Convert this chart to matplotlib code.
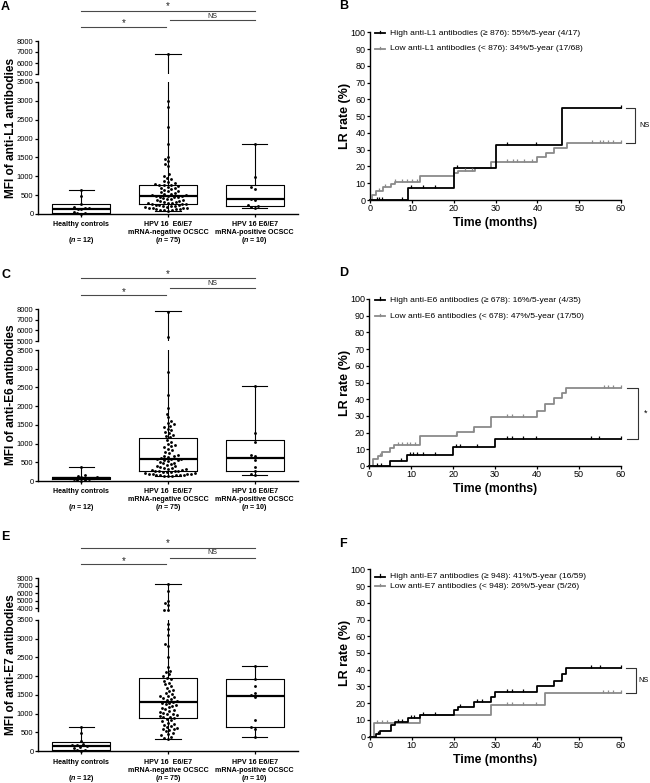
import numpy as np
import matplotlib
matplotlib.use('Agg')
import matplotlib.pyplot as plt
import matplotlib.transforms as mtrans
from matplotlib.path import Path

plt.rcParams['font.family'] = ['Liberation Sans', 'DejaVu Sans']
plt.rcParams['mathtext.fontset'] = 'custom'
plt.rcParams['mathtext.it'] = 'Liberation Sans:italic:bold'
plt.rcParams['mathtext.rm'] = 'Liberation Sans:bold'

# ------------------------------------------------------------------ data
box_line1 = ["Healthy controls", "HPV 16  E6/E7", "HPV 16 E6/E7"]
box_line2 = ["", "mRNA-negative OCSCC", "mRNA-positive OCSCC"]
box_n = [12, 75, 10]
sig_labels = ["*", "NS", "*"]
sig_pairs = [(0, 2), (1.02, 2), (0, 0.98)]

# box stats per group: [min, q1, median, q3, max]
L1_box = [[0, 35, 145, 257, 644], [90, 265, 468, 777, 6790], [160, 220, 385, 780, 1863]]
E6_box = [[10, 45, 90, 118, 382], [130, 262, 575, 1145, 7780], [150, 255, 625, 1085, 2536]]
E7_box = [[10, 27, 125, 248, 645], [330, 873, 1300, 1940, 7300], [380, 650, 1475, 1920, 2270]]

L1_hc = [640, 470, 260, 180, 165, 150, 140, 120, 60, 30, 15, 0]
L1_neg = [6790, 3000, 2850, 2300, 1850, 1520, 1450, 1400, 1330, 1280, 1050, 1000, 960, 920,
          880, 850, 820, 800, 780, 770, 760, 740, 720, 700, 680, 660, 640, 620, 600, 580, 560,
          540, 520, 510, 500, 490, 480, 470, 460, 450, 440, 420, 400, 390, 380, 360, 350, 340,
          320, 310, 300, 290, 280, 275, 270, 265, 250, 240, 230, 220, 210, 200, 190, 180, 170,
          165, 160, 150, 140, 130, 120, 110, 100, 95, 90]
L1_pos = [1860, 990, 720, 670, 410, 360, 250, 220, 180, 160]

E6_hc = [380, 150, 140, 120, 100, 90, 80, 60, 50, 30, 20, 10]
E6_neg = [7750, 5350, 2910, 2310, 1960, 1800, 1700, 1600, 1560, 1520, 1480, 1450, 1400, 1350,
          1300, 1270, 1240, 1200, 1170, 1100, 1050, 1000, 960, 930, 900, 860, 820, 780, 740,
          700, 680, 660, 640, 620, 600, 590, 580, 570, 550, 530, 510, 490, 470, 450, 430, 410,
          390, 370, 350, 340, 330, 310, 300, 290, 280, 275, 265, 255, 245, 240, 230, 220, 210,
          200, 195, 190, 180, 170, 165, 160, 155, 150, 145, 140, 130]
E6_pos = [2530, 1270, 1030, 700, 680, 560, 370, 260, 200, 150]

E7_hc = [640, 470, 260, 180, 160, 150, 130, 110, 70, 40, 20, 10]
E7_neg = [7300, 6300, 5000, 4700, 4400, 3800, 3750, 3400, 3250, 3100, 2850, 2800, 2500, 2250,
          2150, 2100, 2050, 2000, 1960, 1920, 1880, 1830, 1780, 1730, 1690, 1640, 1600, 1560,
          1520, 1480, 1460, 1440, 1420, 1400, 1370, 1340, 1310, 1290, 1270, 1250, 1220, 1200,
          1180, 1150, 1120, 1100, 1070, 1050, 1020, 1000, 980, 960, 940, 920, 900, 880, 860,
          820, 790, 760, 730, 700, 680, 650, 620, 600, 580, 560, 530, 480, 450, 420, 380, 350, 330]
E7_pos = [2270, 1930, 1750, 1560, 1500, 1450, 830, 650, 600, 380]

# Kaplan-Meier style curves (LR rate, %)
B_high_t = [9, 20, 30, 46]
B_high_r = [7.4, 19.0, 32.6, 55.0]
B_high_c = [1.6, 2.2, 2.8, 7.6, 9.7, 12.6, 15.6, 20.7, 32.7, 39.8, 60]
B_low_t = [0.5, 1.5, 3, 5, 6, 12, 20, 21, 25, 29, 40, 42, 44, 47]
B_low_r = [3, 5.5, 7.5, 9.5, 11, 14.5, 16.3, 17.5, 19.2, 22.8, 25.5, 28, 31, 34]
B_low_c = [2.2, 3.6, 6, 7.6, 8.8, 10, 11.2, 22.7, 24.3, 32.7, 34.3, 35.1, 36.7, 38.7,
           53, 55, 55.8, 57, 58.2, 60]

D_high_t = [5, 9, 20, 30]
D_high_r = [3.2, 6.6, 11.1, 15.9]
D_high_c = [1.8, 2.8, 7.6, 9.7, 10.5, 11.3, 12.9, 15.7, 20.8, 21.6, 25.6, 32.8, 34, 36.8,
            39.8, 52.9, 54.9, 60]
D_low_t = [1, 2, 3, 5, 6, 12, 21, 25, 29, 40, 42, 44, 46, 47]
D_low_r = [4, 6.2, 8.3, 10.5, 12.6, 17.8, 20.6, 23.3, 29.3, 33.2, 36.9, 40.5, 43.8, 47]
D_low_c = [2.6, 6.9, 7.9, 8.9, 9.7, 10.9, 20.8, 24.8, 32.8, 34, 36.8, 55.9, 57, 58.2, 60]

F_high_t = [1.5, 2.5, 5, 6, 9, 12, 20, 21, 25, 29, 30, 40, 44, 46, 47]
F_high_r = [1.7, 3.6, 7.2, 9, 11, 13, 15.8, 18, 21, 23.5, 26.5, 30, 33.5, 37.5, 41]
F_high_c = [2, 6.8, 7.6, 9.7, 10.5, 12.6, 15.6, 21.6, 25.6, 26.7, 32.7, 33.9, 36.7, 53, 55, 60]
F_low_t = [1, 12, 29, 42]
F_low_r = [8.3, 13, 18.7, 26.3]
F_low_c = [1.6, 2.8, 4, 32.7, 33.9, 36.7, 39.7, 55.8, 56.9, 58.2, 60]

B_legend = ["High anti-L1 antibodies (\u2265 876): 55%/5-year (4/17)",
            "Low anti-L1 antibodies (< 876): 34%/5-year (17/68)"]
D_legend = ["High anti-E6 antibodies (\u2265 678): 16%/5-year (4/35)",
            "Low anti-E6 antibodies (< 678): 47%/5-year (17/50)"]
F_legend = ["High anti-E7 antibodies (\u2265 948): 41%/5-year (16/59)",
            "Low anti-E7 antibodies (< 948): 26%/5-year (5/26)"]

# ------------------------------------------------------------------ layout helpers
W, H = 650, 783
fig = plt.figure(figsize=(W / 100, H / 100), dpi=100)


def fx(x):
    return x / W


def fy(y):
    return 1 - y / H


GRAY = '#8a8a8a'
SIGC = '#4a4a4a'


def swarm(ypix, d):
    order = np.argsort(ypix)
    xs = np.zeros(len(ypix))
    placed = []
    for i in order:
        y = ypix[i]
        cands = [0.0]
        near = [(px, py) for (px, py) in placed if abs(py - y) < d]
        for px, py in near:
            dx = np.sqrt(max(d * d - (py - y) ** 2, 0))
            cands += [px + dx, px - dx]
        cands = sorted(cands, key=lambda c: (abs(c), c))
        for c in cands:
            if all((c - px) ** 2 + (y - py) ** 2 >= d * d - 1e-6 for px, py in near):
                xs[i] = c
                break
        placed.append((xs[i], y))
    return xs


def box_panel(letter, ylabel, stats, dots, lower_px, upper_px, upper_lim, upper_ticks,
              sig_y, sig_ty, lab_y, letter_xy):
    x_left, x_right = 38, 298
    lo_top, lo_zero = lower_px
    up_top, up_bot = upper_px
    axL = fig.add_axes([fx(x_left), fy(lo_zero), (x_right - x_left) / W, (lo_zero - lo_top) / H])
    axU = fig.add_axes([fx(x_left), fy(up_bot), (x_right - x_left) / W, (up_bot - up_top) / H])
    for ax in (axL, axU):
        ax.set_xlim(-0.5, 2.5)
        ax.patch.set_alpha(0)
        for s in ('top', 'right'):
            ax.spines[s].set_visible(False)
        ax.spines['left'].set_linewidth(1.0)
        ax.tick_params(axis='y', direction='out', length=2.2, width=0.9, pad=1, labelsize=5.5)
    axL.set_ylim(0, 3500)
    axL.set_yticks(np.arange(0, 3501, 500))
    axL.spines['bottom'].set_linewidth(1.0)
    axL.set_xticks([0, 1, 2])
    axL.set_xticklabels(['', '', ''])
    axL.tick_params(axis='x', direction='out', length=2.2, width=0.9)
    axU.set_ylim(*upper_lim)
    axU.set_yticks(upper_ticks)
    axU.spines['bottom'].set_visible(False)
    axU.set_xticks([])

    bstats = [dict(whislo=s[0], q1=s[1], med=s[2], q3=s[3], whishi=s[4], fliers=[]) for s in stats]
    for ax in (axL, axU):
        ax.bxp(bstats, positions=[0, 1, 2], widths=0.67, capwidths=0.29, showfliers=False,
               boxprops=dict(color='k', lw=0.8), whiskerprops=dict(color='k', lw=0.8),
               capprops=dict(color='k', lw=0.8), medianprops=dict(color='k', lw=1.6),
               manage_ticks=False)

    # swarm dots
    px_per_unit = (x_right - x_left) / 3.0
    for gi, vals in enumerate(dots):
        vals = np.asarray(vals, float)
        ypix = np.empty(len(vals))
        use_up = vals > 3500
        for k, v in enumerate(vals):
            ax = axU if use_up[k] else axL
            ypix[k] = ax.transData.transform((0, v))[1]
        offs = swarm(ypix, 3.9) / px_per_unit
        xs = gi + offs
        axL.scatter(xs[~use_up], vals[~use_up], s=4.2, color='k', zorder=5, clip_on=False,
                    linewidths=0)
        axU.scatter(xs[use_up], vals[use_up], s=4.2, color='k', zorder=5, clip_on=False,
                    linewidths=0)

    # category labels
    blend = mtrans.blended_transform_factory(axL.transData, fig.transFigure)
    for i in range(3):
        axL.text(i, fy(lab_y[0]), box_line1[i], transform=blend, ha='center', va='center',
                 fontsize=5.1, fontweight='bold')
        if box_line2[i]:
            axL.text(i, fy(lab_y[1]), box_line2[i], transform=blend, ha='center', va='center',
                     fontsize=5.1, fontweight='bold')
        axL.text(i, fy(lab_y[2]), r'($\mathit{n}$ = %d)' % box_n[i], transform=blend,
                 ha='center', va='center', fontsize=5.1, fontweight='bold')

    # significance lines
    for (a, b), lab, ly, ty in zip(sig_pairs, sig_labels, sig_y, sig_ty):
        axL.plot([a, b], [fy(ly), fy(ly)], transform=blend, color=SIGC, lw=0.8, clip_on=False)
        axL.text((a + b) / 2, fy(ty), lab, transform=blend, ha='center', va='center',
                 fontsize=7 if lab == '*' else 5, color='#222222')

    fig.text(fx(11), fy((up_top + lo_zero) / 2), ylabel, rotation=90, ha='center', va='center',
             fontsize=8.6, fontweight='bold')
    fig.text(fx(letter_xy[0]), fy(letter_xy[1]), letter, ha='left', va='center', fontsize=9,
             fontweight='bold')


tick_marker = Path([(0, 0), (0, 1)])


def km_panel(letter, curves, legend, bracket_lab, px, leg_y, letter_xy, br_x, xlabel_y):
    x0, x60, y0, y100 = px
    ax = fig.add_axes([fx(x0), fy(y0), (x60 - x0) / W, (y0 - y100) / H])
    ax.set_xlim(0, 60)
    ax.set_ylim(0, 100)
    ax.patch.set_alpha(0)
    for s in ('top', 'right'):
        ax.spines[s].set_visible(False)
    for s in ('left', 'bottom'):
        ax.spines[s].set_linewidth(1.0)
    ax.set_xticks(np.arange(0, 61, 10))
    ax.set_yticks(np.arange(0, 101, 10))
    ax.tick_params(direction='out', length=2.2, width=0.9, pad=1, labelsize=6.5)
    ends = []
    for (t, r, c, color) in curves:
        tt = np.concatenate([[0], t, [60]])
        rr = np.concatenate([[0], r, [r[-1]]])
        ax.step(tt, rr, where='post', color=color, lw=1.3, clip_on=False, zorder=3)
        idx = np.searchsorted(tt, np.asarray(c), side='right') - 1
        ax.plot(c, rr[idx], ls='none', marker=tick_marker, ms=5, mew=0.9, color=color,
                clip_on=False, zorder=4)
        ends.append(r[-1])
    hi, lo = max(ends), min(ends)
    bx0, bx1, btx = br_x
    ax.plot([bx0, bx1, bx1, bx0], [hi, hi, lo, lo], color='#333333', lw=0.8, clip_on=False)
    ax.text(btx, (hi + lo) / 2, bracket_lab, ha='left', va='center',
            fontsize=6.5 if bracket_lab == '*' else 5.3)

    fig.text(fx((x0 + x60) / 2), fy(xlabel_y), 'Time (months)', ha='center', va='center',
             fontsize=8.8, fontweight='bold')
    fig.text(fx(345), fy((y0 + y100) / 2), 'LR rate (%)', rotation=90, ha='center',
             va='center', fontsize=9, fontweight='bold')
    # legend
    colors = ['k', GRAY]
    for yy, txt, col in zip(leg_y, legend, colors):
        fig.add_artist(plt.Line2D([fx(375), fx(384.5)], [fy(yy), fy(yy)], color=col, lw=1.3))
        fig.add_artist(plt.Line2D([fx(379.7), fx(379.7)], [fy(yy), fy(yy - 2.5)], color=col,
                                  lw=0.9))
        fig.text(fx(390), fy(yy), txt, ha='left', va='center', fontsize=6.1)
    fig.text(fx(letter_xy[0]), fy(letter_xy[1]), letter, ha='left', va='center', fontsize=9,
             fontweight='bold')


# ------------------------------------------------------------------ panels
box_panel('A', 'MFI of anti-L1 antibodies', L1_box, [L1_hc, L1_neg, L1_pos],
          (82, 214), (41, 74), (5000, 8000), [5000, 6000, 7000, 8000],
          [10.7, 20, 27.3], [6, 16, 23], [224.5, 232.3, 240.3], (1, 7))
box_panel('C', 'MFI of anti-E6 antibodies', E6_box, [E6_hc, E6_neg, E6_pos],
          (350, 481), (309, 341), (5000, 8000), [5000, 6000, 7000, 8000],
          [277.7, 287.7, 295], [274, 283.3, 291.7], [491.8, 499.6, 507.6], (1, 275))
box_panel('E', 'MFI of anti-E7 antibodies', E7_box, [E7_hc, E7_neg, E7_pos],
          (620, 751), (578.3, 610.7), (3650, 8000), [4000, 5000, 6000, 7000, 8000],
          [547.7, 557.7, 564.3], [543, 553, 561], [762.2, 770.0, 778.0], (1, 537))

km_panel('B', [(B_low_t, B_low_r, B_low_c, GRAY), (B_high_t, B_high_r, B_high_c, 'k')],
         B_legend, 'NS', (370, 621, 200, 32.3), [33.3, 49], (339, 6), (61.3, 63.3, 64.3), 222.7)
km_panel('D', [(D_low_t, D_low_r, D_low_c, GRAY), (D_high_t, D_high_r, D_high_c, 'k')],
         D_legend, '*', (369.3, 620.7, 466, 299), [300, 316], (339, 273), (61.5, 64.2, 65.5), 489.3)
km_panel('F', [(F_low_t, F_low_r, F_low_c, GRAY), (F_high_t, F_high_r, F_high_c, 'k')],
         F_legend, 'NS', (370, 620.7, 736.7, 569.3), [576.7, 586], (339, 544), (61.3, 63.7, 64.3), 760)

fig.savefig('out.png', dpi=100, facecolor='white')
